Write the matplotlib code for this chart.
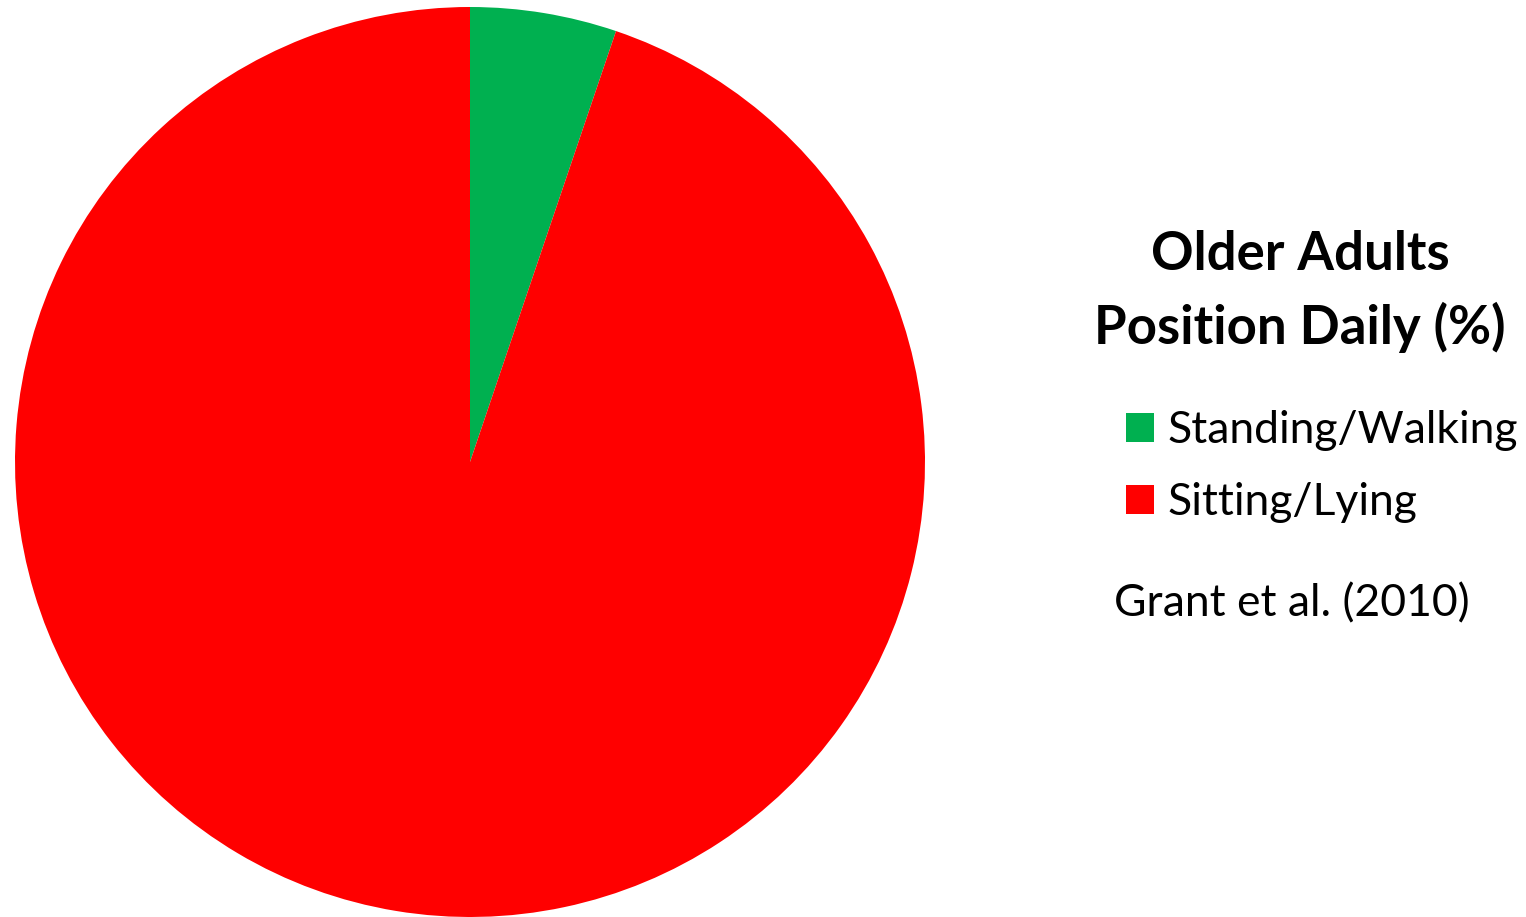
import matplotlib
matplotlib.use("Agg")
import matplotlib.pyplot as plt

labels = ["Standing/Walking", "Sitting/Lying"]
values = [5.2, 94.8]
colors = ["#00B050", "#FF0000"]
title_lines = ["Older Adults", "Position Daily (%)"]
source = "Grant et al. (2010)"

plt.rcParams["font.family"] = ["Lato", "DejaVu Sans"]

fig = plt.figure(figsize=(15.26, 9.17), dpi=100)
ax = fig.add_axes([15 / 1526, 0, 910 / 1526, 910 / 917])
wedges, _ = ax.pie(values, colors=colors, startangle=90, counterclock=False,
                   radius=1, wedgeprops=dict(linewidth=0))
ax.set_xlim(-1, 1)
ax.set_ylim(-1, 1)
ax.set_aspect("equal")
ax.axis("off")

fig.text(1300 / 1526, 1 - 255 / 917, title_lines[0], ha="center", va="center",
         fontsize=38, fontweight="bold")
fig.text(1300 / 1526, 1 - 327 / 917, title_lines[1], ha="center", va="center",
         fontsize=38, fontweight="bold")

fig.legend(wedges, labels, loc="upper left",
           bbox_to_anchor=(1126 / 1526, 1 - 410 / 917), frameon=False,
           fontsize=32, handlelength=0.63, handleheight=0.63, handletextpad=0.3,
           labelspacing=0.7, borderpad=0, borderaxespad=0)

fig.text(1292 / 1526, 1 - 604 / 917, source, ha="center", va="center", fontsize=32)

fig.savefig("out.png", dpi=100)
